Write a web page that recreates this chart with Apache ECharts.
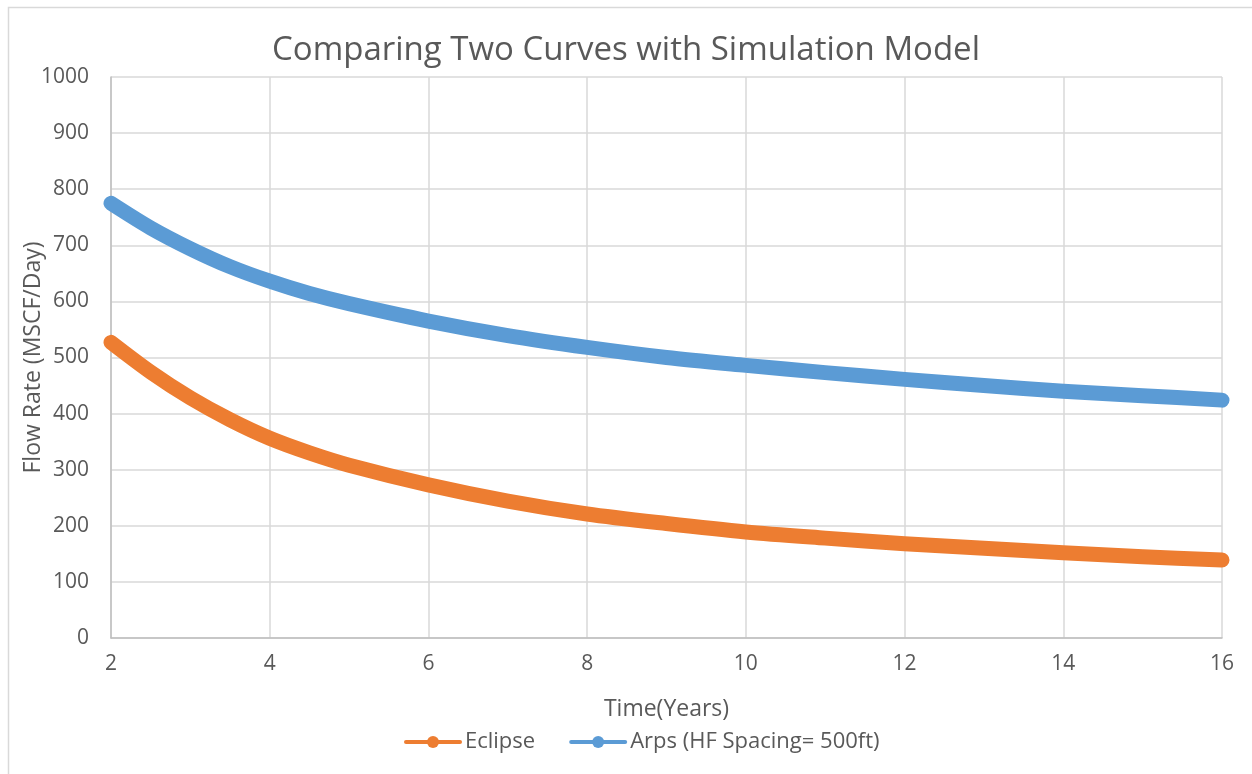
<!DOCTYPE html>
<html>
<head>
<meta charset="utf-8">
<script src="https://cdn.jsdelivr.net/npm/echarts@6/dist/echarts.min.js"></script>
<style>
  html, body { margin: 0; padding: 0; background: #fff; }
  #chart { width: 1252px; height: 774px; }
</style>
</head>
<body>
<div id="chart"></div>
<script>
// Time in years and flow rates (MSCF/Day)
const years = [2, 2.5, 3, 3.5, 4, 4.5, 5, 6, 7, 8, 9, 10, 11, 12, 13, 14, 15, 16];
const eclipse = [527, 474, 428, 389, 356, 330, 308, 273, 244, 221, 204, 189, 178, 168, 160, 152, 145, 139];
const arps = [775, 731, 694, 662, 636, 614, 596, 565, 539, 518, 500, 486, 473, 461, 450, 440, 432, 424];
const seriesNames = ['Eclipse', 'Arps (HF Spacing= 500ft)'];
const seriesColors = ['#ED7D31', '#5B9BD5'];

const FONT = '"Open Sans", "Liberation Sans", sans-serif';
const TEXT = '#595959';

const toPairs = (ys) => years.map((x, i) => [x, ys[i]]);

const chart = echarts.init(document.getElementById('chart'), null, { renderer: 'canvas' });

const lineSeries = (name, color, ys) => ({
  name: name,
  type: 'line',
  data: toPairs(ys),
  smooth: 0.3,
  symbol: 'circle',
  symbolSize: 14,
  showSymbol: false,
  color: color,
  lineStyle: { width: 15, color: color, cap: 'round', join: 'round' },
  itemStyle: { color: color },
  emphasis: { disabled: true },
  z: 3
});

chart.setOption({
  animation: false,
  backgroundColor: '#ffffff',
  textStyle: { fontFamily: FONT },
  graphic: [{
    type: 'rect',
    left: 6, top: 5,
    shape: { width: 1400, height: 900 },
    style: { fill: 'none', stroke: '#d9d9d9', lineWidth: 1.5 },
    silent: true
  }],
  title: {
    text: 'Comparing Two Curves with Simulation Model',
    left: 'center',
    top: 29,
    textStyle: { fontFamily: FONT, fontSize: 33, fontWeight: 'normal', color: TEXT }
  },
  grid: { left: 111, right: 30, top: 77, bottom: 136, containLabel: false },
  legend: {
    data: seriesNames,
    bottom: 16,
    left: 399,
    itemWidth: 54,
    itemHeight: 15,
    itemGap: 34,
    lineStyle: { width: 4 },
    textStyle: { fontFamily: FONT, fontSize: 22, color: TEXT }
  },
  xAxis: {
    type: 'value',
    min: 2, max: 16, interval: 2,
    name: 'Time(Years)',
    nameLocation: 'middle',
    nameGap: 60,
    nameTextStyle: { fontFamily: FONT, fontSize: 23, color: TEXT },
    axisLine: { show: true, lineStyle: { color: '#bfbfbf', width: 1.5 } },
    axisTick: { show: false },
    axisLabel: { margin: 16, fontFamily: FONT, fontSize: 21, color: TEXT },
    splitLine: { show: true, lineStyle: { color: '#d9d9d9', width: 1.5 } }
  },
  yAxis: {
    type: 'value',
    min: 0, max: 1000, interval: 100,
    name: 'Flow Rate (MSCF/Day)',
    nameLocation: 'middle',
    nameGap: 66,
    nameMoveOverlap: false,
    nameTextStyle: { fontFamily: FONT, fontSize: 23, color: TEXT },
    axisLine: { show: true, lineStyle: { color: '#bfbfbf', width: 1.5 } },
    axisTick: { show: false },
    axisLabel: { margin: 22, fontFamily: FONT, fontSize: 21, color: TEXT, formatter: (v) => String(v) },
    splitLine: { show: true, lineStyle: { color: '#d9d9d9', width: 1.5 } }
  },
  series: [
    lineSeries(seriesNames[0], seriesColors[0], eclipse),
    lineSeries(seriesNames[1], seriesColors[1], arps)
  ]
});
</script>
</body>
</html>
